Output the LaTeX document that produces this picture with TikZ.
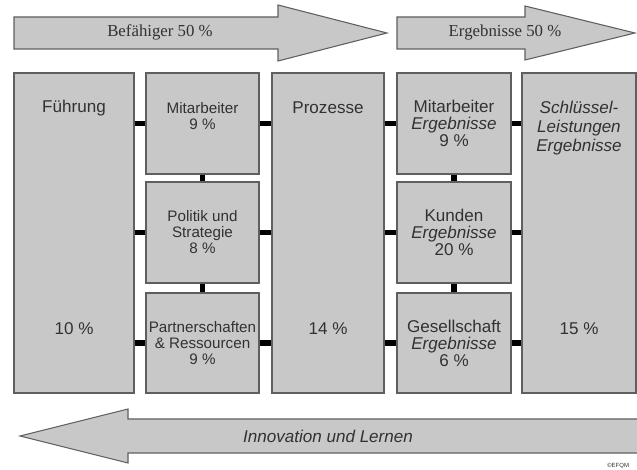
\documentclass[tikz,border=0pt]{standalone}
\usepackage{fontspec}
\setmainfont{Liberation Sans}
\newfontfamily\serifarrow{Liberation Serif}
\usetikzlibrary{fit}

\definecolor{boxfill}{RGB}{200,200,200}
\definecolor{boxline}{RGB}{95,95,95}
\definecolor{txtgray}{RGB}{50,50,50}

\tikzset{
  block/.style={draw=boxline, fill=boxfill, line width=0.8pt, inner sep=0pt},
  band/.style={draw=boxline, fill=boxfill, line width=0.8pt},
  link/.style={draw=black, line width=3.8pt},
  bigtxt/.style={align=center, text=txtgray, inner sep=0pt, font=\fontsize{12.8}{12.8}\selectfont},
  smalltxt/.style={align=center, text=txtgray, inner sep=0pt, font=\fontsize{11.4}{12}\selectfont},
}

\begin{document}
\begin{tikzpicture}[x=0.75pt,y=-0.75pt]
\useasboundingbox (0,0) rectangle (637,470);

%Arrows on top
\draw [band] (14,17) -- (278,17) -- (278,5) -- (387,33) -- (278,61) -- (278,49) -- (14,49) -- cycle ;
\draw [band] (397,17) -- (525,17) -- (525,6) -- (635,33) -- (525,60) -- (525,49) -- (397,49) -- cycle ;
%Arrow at bottom
\draw [band] (640,419) -- (128,419) -- (128,409) -- (20,436) -- (128,463) -- (128,453) -- (640,453) ;

% Text Node
\node [bigtxt, font=\serifarrow\fontsize{12.6}{12.6}\selectfont] (befaehiger) at (160,32) {Befähiger 50 \%};
% Text Node
\node [bigtxt, font=\serifarrow\fontsize{12.6}{12.6}\selectfont] (ergebnisse) at (505,32) {Ergebnisse 50 \%};
% Text Node
\node [bigtxt, font=\itshape\fontsize{12.8}{12.8}\selectfont] (innovation) at (328,436) {Innovation und Lernen};

%Boxes
\node [block, fit={(14,73) (134,393)}] (fuehrung) {};
\node [block, fit={(146,73) (259,174)}] (mitarbeiter) {};
\node [block, fit={(146,182) (259,283)}] (politik) {};
\node [block, fit={(146,293) (259,393)}] (partner) {};
\node [block, fit={(272,73) (384,393)}] (prozesse) {};
\node [block, fit={(397,73) (511,174)}] (maergebnis) {};
\node [block, fit={(397,182) (511,283)}] (kunden) {};
\node [block, fit={(397,293) (511,393)}] (gesellschaft) {};
\node [block, fit={(522,73) (636,393)}] (schluessel) {};

%Links between boxes
\draw [link] (fuehrung.east |- mitarbeiter.west) -- (mitarbeiter.west) ;
\draw [link] (fuehrung.east |- politik.west) -- (politik.west) ;
\draw [link] (fuehrung.east |- partner.west) -- (partner.west) ;
\draw [link] (mitarbeiter.east) -- (prozesse.west |- mitarbeiter.east) ;
\draw [link] (politik.east) -- (prozesse.west |- politik.east) ;
\draw [link] (partner.east) -- (prozesse.west |- partner.east) ;
\draw [link] (mitarbeiter.south) -- (politik.north) ;
\draw [link] (politik.south) -- (partner.north) ;
\draw [link] (prozesse.east |- maergebnis.west) -- (maergebnis.west) ;
\draw [link] (prozesse.east |- kunden.west) -- (kunden.west) ;
\draw [link] (prozesse.east |- gesellschaft.west) -- (gesellschaft.west) ;
\draw [link] (maergebnis.east) -- (schluessel.west |- maergebnis.east) ;
\draw [link] (kunden.east) -- (schluessel.west |- kunden.east) ;
\draw [link] (gesellschaft.east) -- (schluessel.west |- gesellschaft.east) ;
\draw [link] (maergebnis.south) -- (kunden.north) ;
\draw [link] (kunden.south) -- (gesellschaft.north) ;

% Text Node
\node [bigtxt] (fuehrungTxt) at (fuehrung.north |- 0,108) {Führung};
\node [bigtxt] (fuehrungPct) at (fuehrung.north |- 0,329) {10 \%};
% Text Node
\node [smalltxt] (mitarbeiterTxt) at (mitarbeiter.north |- 0,116) {Mitarbeiter\\9 \%};
\node [smalltxt] (politikTxt) at (politik.center) {Politik und\\Strategie\\8 \%};
\node [smalltxt] (partnerTxt) at (partner.center) {Partnerschaften\\\& Ressourcen\\9 \%};
% Text Node
\node [bigtxt] (prozesseTxt) at (prozesse.north |- 0,108) {Prozesse};
\node [bigtxt] (prozessePct) at (prozesse.north |- 0,329) {14 \%};
% Text Node
\node [bigtxt] (maergebnisTxt) at (maergebnis.center) {Mitarbeiter\\\textit{Ergebnisse}\\9 \%};
\node [bigtxt] (kundenTxt) at (kunden.center) {Kunden\\\textit{Ergebnisse}\\20 \%};
\node [bigtxt] (gesellschaftTxt) at (gesellschaft.center) {Gesellschaft\\\textit{Ergebnisse}\\6 \%};
% Text Node
\node [bigtxt, font=\itshape\fontsize{12.8}{14}\selectfont] (schluesselTxt) at (schluessel.north |- 0,128) {Schlüssel-\\Leistungen\\Ergebnisse};
\node [bigtxt] (schluesselPct) at (schluessel.north |- 0,329) {15 \%};

% Text Node
\node [anchor=west, inner sep=0pt, text=txtgray, font=\fontsize{4.5}{4.5}\selectfont] (efqm) at (607,466) {©EFQM};
\end{tikzpicture}
\end{document}
